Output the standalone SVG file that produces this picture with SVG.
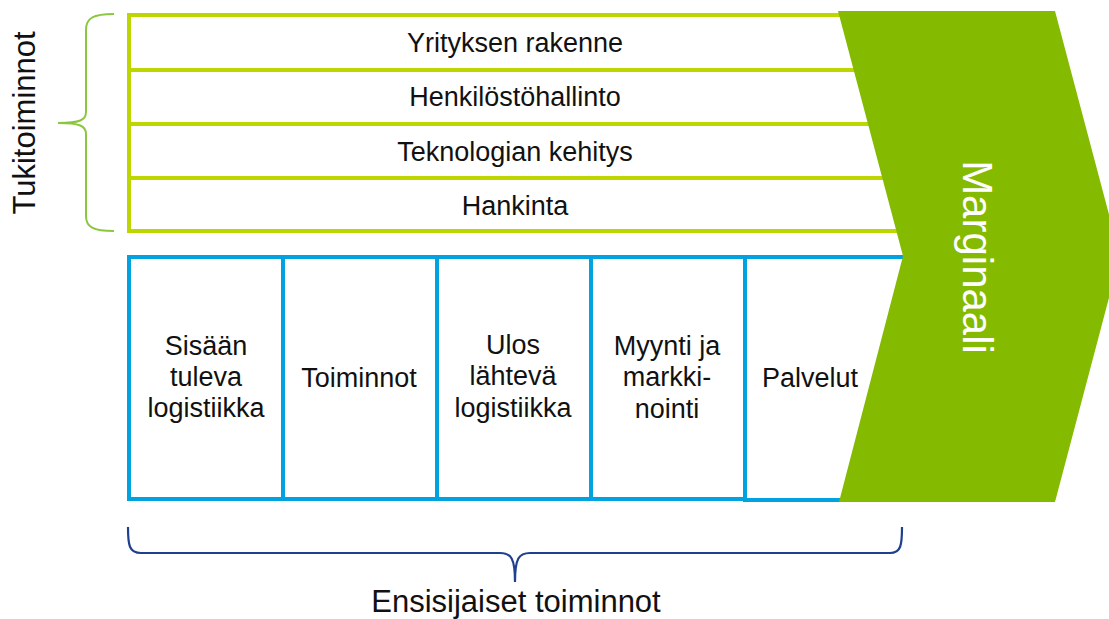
<svg xmlns="http://www.w3.org/2000/svg" width="1109" height="619" viewBox="0 0 1109 619">
  <style>
    .txt { font-family: "Liberation Sans", Arial, sans-serif; fill: #111; }
    .row { font-size: 27px; text-anchor: middle; }
    .cell { font-size: 27px; text-anchor: middle; }
    .support { fill: none; stroke: #BED600; stroke-width: 4; }
    .primary { fill: #fff; stroke: #00A3E0; stroke-width: 4; }
    .brace-green { fill: none; stroke: #8CC63F; stroke-width: 2; }
    .brace-blue { fill: none; stroke: #1F3F8F; stroke-width: 2.2; }
  </style>

  <rect width="1109" height="619" fill="#fff"/>

  <!-- support activities -->
  <g id="support-activities">
    <g id="yrityksen-rakenne">
      <line class="support" x1="127" y1="15" x2="920" y2="15"/>
      <text class="txt row" x="515" y="52">Yrityksen rakenne</text>
    </g>
    <g id="henkilostohallinto">
      <line class="support" x1="127" y1="70" x2="920" y2="70"/>
      <text class="txt row" x="515" y="106">Henkilöstöhallinto</text>
    </g>
    <g id="teknologian-kehitys">
      <line class="support" x1="127" y1="124" x2="920" y2="124"/>
      <text class="txt row" x="515" y="161">Teknologian kehitys</text>
    </g>
    <g id="hankinta">
      <line class="support" x1="127" y1="178" x2="920" y2="178"/>
      <text class="txt row" x="515" y="215">Hankinta</text>
    </g>
    <line class="support" x1="127" y1="231" x2="920" y2="231"/>
    <line class="support" x1="129" y1="13" x2="129" y2="233"/>
  </g>

  <!-- primary activities -->
  <g id="primary-activities">
    <g id="sisaan-tuleva-logistiikka">
      <rect class="primary" x="129" y="257" width="154" height="242"/>
      <text class="txt cell" x="206" y="355">Sisään</text>
      <text class="txt cell" x="206" y="386">tuleva</text>
      <text class="txt cell" x="206" y="417">logistiikka</text>
    </g>
    <g id="toiminnot">
      <rect class="primary" x="283" y="257" width="154" height="242"/>
      <text class="txt cell" x="359" y="387">Toiminnot</text>
    </g>
    <g id="ulos-lahteva-logistiikka">
      <rect class="primary" x="437" y="257" width="154" height="242"/>
      <text class="txt cell" x="513" y="354">Ulos</text>
      <text class="txt cell" x="513" y="385">lähtevä</text>
      <text class="txt cell" x="513" y="417">logistiikka</text>
    </g>
    <g id="myynti-ja-markkinointi">
      <rect class="primary" x="591" y="257" width="154" height="242"/>
      <text class="txt cell" x="667" y="355">Myynti ja</text>
      <text class="txt cell" x="667" y="386">markki-</text>
      <text class="txt cell" x="667" y="418">nointi</text>
    </g>
    <g id="palvelut">
      <rect class="primary" x="745" y="257" width="180" height="243"/>
      <text class="txt cell" x="810" y="387">Palvelut</text>
    </g>
  </g>

  <!-- margin chevron -->
  <g id="marginaali">
    <polygon points="838,11 1055,11 1120,256 1055,502 839,502 903,256" fill="#84BB00"/>
    <text class="txt" transform="translate(963,257) rotate(90)" text-anchor="middle" font-size="42" style="fill:#fff">Marginaali</text>
  </g>

  <!-- braces -->
  <g id="connectors">
    <path class="brace-green" d="M114,14 C93,14 86,18 86,30 L86,112 C86,120 80,123 58,123 C80,123 86,126 86,134 L86,216 C86,227 93,231 114,231"/>
    <path class="brace-blue" d="M128,527 C128,545 129,553 141,553 L500,553 C511,553 515,558 515,582 C515,558 519,553 530,553 L890,553 C901,553 902,545 902,527"/>
  </g>

  <g id="tukitoiminnot">
    <text class="txt" transform="translate(35,123) rotate(-90)" text-anchor="middle" font-size="31">Tukitoiminnot</text>
  </g>
  <g id="ensisijaiset-toiminnot">
    <text class="txt" x="516" y="612" text-anchor="middle" font-size="31">Ensisijaiset toiminnot</text>
  </g>
</svg>
